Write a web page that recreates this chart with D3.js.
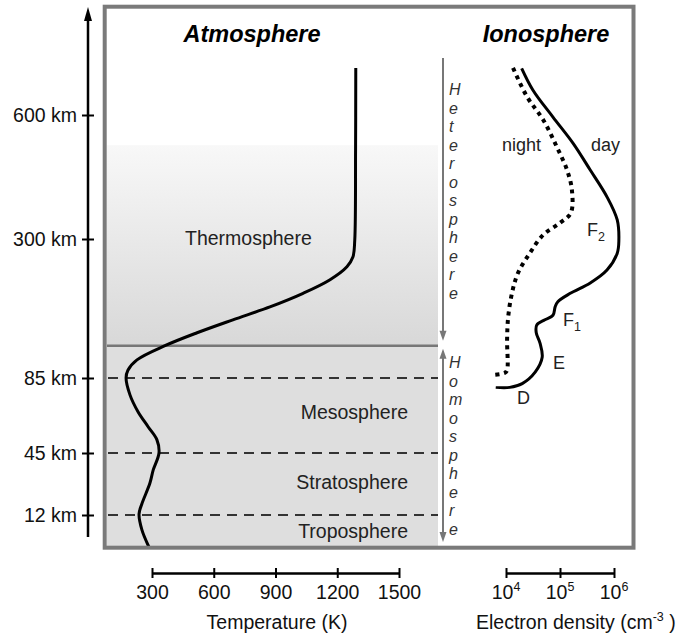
<!DOCTYPE html>
<html>
<head>
<meta charset="utf-8">
<script src="https://cdn.jsdelivr.net/npm/d3@7"></script>
<style>
  body { margin: 0; background: #fff; }
  svg { display: block; font-family: "Liberation Sans", Arial, sans-serif; }
</style>
</head>
<body>
<svg id="chart" width="681" height="638"></svg>
<script>
'use strict';

// altitude ticks (km) and the schematic heights of the layer boundaries
var altTicks = [12, 45, 85, 300, 600];
var homopauseKm = 135;
var shadeTopKm = 527;

var tempTicks = [300, 600, 900, 1200, 1500];
var densityExp = [4, 5, 6];

// temperature profile (top to bottom)
var tempAlt = [714, 515, 298, 272, 257, 237, 216, 195, 175, 155, 135, 113, 97, 85, 76, 67, 59, 52, 45, 36, 29, 18, 12.5, 6.4, 0];
var tempK   = [1290, 1289, 1285, 1276, 1247, 1165, 1034, 873, 693, 519, 363, 227, 183, 174, 193, 232, 281, 324, 334, 306, 290, 251, 237, 251, 285];

// electron density, log10(cm^-3)
var dayAlt  = [713, 660, 595, 532, 467, 402, 346, 298, 278, 252, 232, 216, 203, 195, 182, 175, 167, 155, 139, 117, 94, 82, 80, 80];
var dayLogN = [4.29, 4.50, 4.87, 5.24, 5.56, 5.87, 6.06, 6.09, 6.06, 5.87, 5.56, 5.19, 4.96, 4.91, 4.87, 4.72, 4.57, 4.56, 4.63, 4.67, 4.54, 4.30, 4.07, 3.81];
var nightAlt  = [714, 644, 588, 523, 467, 419, 363, 339, 310, 278, 247, 216, 179, 144, 97, 93, 90];
var nightLogN = [4.13, 4.39, 4.69, 4.94, 5.13, 5.22, 5.20, 5.00, 4.69, 4.44, 4.22, 4.11, 4.04, 4.02, 4.02, 3.98, 3.80];

var svg = d3.select('#chart');

// altitude is drawn on a stretched schematic scale
var y = d3.scaleLinear()
  .domain([0, 12, 45, 85, 300, 600])
  .range([547, 515, 453, 378, 239, 115]);
var xT = d3.scaleLinear().domain([300, 1500]).range([152, 399]);
var xN = d3.scaleLog().domain([1e4, 1e6]).range([506, 614]);

var left = 107, shadeRight = 438;
var labelSize = 19.5;

// shading
var grad = svg.append('defs').append('linearGradient')
  .attr('id', 'thermo').attr('x1', 0).attr('y1', 0).attr('x2', 0).attr('y2', 1);
grad.append('stop').attr('offset', '0%').attr('stop-color', '#f8f8f8');
grad.append('stop').attr('offset', '100%').attr('stop-color', '#d8d8d8');

svg.append('rect')
  .attr('x', left).attr('y', y(shadeTopKm))
  .attr('width', shadeRight - left).attr('height', y(homopauseKm) - y(shadeTopKm))
  .attr('fill', 'url(#thermo)');
svg.append('rect')
  .attr('x', left).attr('y', y(homopauseKm))
  .attr('width', shadeRight - left).attr('height', y(0) - y(homopauseKm))
  .attr('fill', '#dedede');

// layer boundaries
svg.selectAll('line.bound')
  .data([12, 45, 85])
  .enter().append('line')
  .attr('class', 'bound')
  .attr('x1', left + 1).attr('x2', shadeRight)
  .attr('y1', function(d) { return y(d); })
  .attr('y2', function(d) { return y(d); })
  .attr('stroke', '#333').attr('stroke-width', 2.2)
  .attr('stroke-dasharray', '10,7');

svg.append('line')
  .attr('x1', left).attr('x2', shadeRight)
  .attr('y1', y(homopauseKm)).attr('y2', y(homopauseKm))
  .attr('stroke', '#777').attr('stroke-width', 2.5);

// curves
var tempLine = d3.line()
  .x(function(d) { return xT(d[1]); })
  .y(function(d) { return y(d[0]); })
  .curve(d3.curveCatmullRom.alpha(0.5));

var densLine = d3.line()
  .x(function(d) { return xN(Math.pow(10, d[1])); })
  .y(function(d) { return y(d[0]); })
  .curve(d3.curveCatmullRom.alpha(0.5));

svg.append('path')
  .attr('d', tempLine(d3.zip(tempAlt, tempK)))
  .attr('fill', 'none').attr('stroke', '#000').attr('stroke-width', 3);

svg.append('path')
  .attr('d', densLine(d3.zip(dayAlt, dayLogN)))
  .attr('fill', 'none').attr('stroke', '#000').attr('stroke-width', 3);

svg.append('path')
  .attr('d', densLine(d3.zip(nightAlt, nightLogN)))
  .attr('fill', 'none').attr('stroke', '#000').attr('stroke-width', 4)
  .attr('stroke-dasharray', '4,4.5');

// frame
svg.append('rect')
  .attr('x', 104.7).attr('y', 6.7).attr('width', 528.8).attr('height', 541)
  .attr('fill', 'none').attr('stroke', '#7a7a7a').attr('stroke-width', 4);

// hetero / homosphere arrows
var arrowX = 443;
function head(x, tipY, dir, color) {
  svg.append('path')
    .attr('d', 'M' + x + ',' + tipY + 'L' + (x - 3.5) + ',' + (tipY - dir * 10) +
               'L' + (x + 3.5) + ',' + (tipY - dir * 10) + 'Z')
    .attr('fill', color);
}
svg.append('line')
  .attr('x1', arrowX).attr('x2', arrowX).attr('y1', 58).attr('y2', y(homopauseKm) - 8)
  .attr('stroke', '#777').attr('stroke-width', 2);
head(arrowX, y(homopauseKm) - 5, 1, '#777');
svg.append('line')
  .attr('x1', arrowX).attr('x2', arrowX).attr('y1', y(homopauseKm) + 6).attr('y2', y(0) - 8)
  .attr('stroke', '#777').attr('stroke-width', 2);
head(arrowX, y(homopauseKm) + 3, -1, '#777');
head(arrowX, y(0) - 5, 1, '#777');

// stacked letters
function vertical(word, y0) {
  svg.append('g').selectAll('text')
    .data(word.split(''))
    .enter().append('text')
    .attr('x', 449)
    .attr('y', function(d, i) { return y0 + i * 18.5; })
    .attr('font-size', 16).attr('font-style', 'italic').attr('fill', '#333')
    .text(function(d) { return d; });
}
vertical('Heterosphere', 95);
vertical('Homosphere', 368);

// titles
svg.append('text').attr('x', 252).attr('y', 42).attr('text-anchor', 'middle')
  .attr('font-size', 23.5).attr('font-weight', 'bold').attr('font-style', 'italic')
  .text('Atmosphere');
svg.append('text').attr('x', 546).attr('y', 42).attr('text-anchor', 'middle')
  .attr('font-size', 23.5).attr('font-weight', 'bold').attr('font-style', 'italic')
  .text('Ionosphere');

// layer names
var layerText = svg.append('g').attr('font-size', 19.5).attr('fill', '#222');
layerText.append('text').attr('x', 408).attr('y', 538).attr('text-anchor', 'end').text('Troposphere');
layerText.append('text').attr('x', 408).attr('y', 489).attr('text-anchor', 'end').text('Stratosphere');
layerText.append('text').attr('x', 408).attr('y', 419).attr('text-anchor', 'end').text('Mesosphere');
layerText.append('text').attr('x', 185).attr('y', 245).text('Thermosphere');

// ionosphere labels
var ion = svg.append('g').attr('font-size', 18).attr('fill', '#222');
ion.append('text').attr('x', 502).attr('y', 151).text('night');
ion.append('text').attr('x', 591).attr('y', 151).text('day');
function region(x, yy, name, sub) {
  var t = ion.append('text').attr('x', x).attr('y', yy).text(name);
  if (sub) t.append('tspan').attr('font-size', 12.5).attr('dy', 5).text(sub);
}
region(587, 236, 'F', '2');
region(563, 326, 'F', '1');
region(553, 369, 'E');
region(517, 404, 'D');

// altitude axis
var gy = svg.append('g').attr('transform', 'translate(88,0)')
  .call(d3.axisLeft(y).tickValues(altTicks)
    .tickFormat(function(d) { return d + ' km'; })
    .tickSizeInner(6).tickSizeOuter(0).tickPadding(5));
gy.attr('font-size', labelSize).attr('font-family', null);
gy.select('.domain').remove();
gy.selectAll('.tick line').attr('x1', -6).attr('x2', 6).attr('stroke-width', 2);
gy.selectAll('.tick text').attr('fill', '#111');
svg.append('line').attr('x1', 88).attr('x2', 88).attr('y1', 537).attr('y2', 18)
  .attr('stroke', '#000').attr('stroke-width', 2.5);
svg.append('path').attr('d', 'M88,7L84,21L92,21Z').attr('fill', '#000');

// temperature axis
var gx = svg.append('g').attr('transform', 'translate(0,573)')
  .call(d3.axisBottom(xT).tickValues(tempTicks)
    .tickFormat(d3.format('d'))
    .tickSizeOuter(0).tickSizeInner(5).tickPadding(7));
gx.attr('font-size', labelSize).attr('font-family', null);
gx.select('.domain').attr('stroke-width', 2.5);
gx.selectAll('.tick line').attr('y1', -5).attr('y2', 5).attr('stroke-width', 2);
gx.selectAll('.tick text').attr('fill', '#111');

svg.append('text').attr('x', 277).attr('y', 629).attr('text-anchor', 'middle')
  .attr('font-size', labelSize).attr('fill', '#111').text('Temperature (K)');

// electron density axis
var gn = svg.append('g').attr('transform', 'translate(0,573)')
  .call(d3.axisBottom(xN).tickValues(densityExp.map(function(e) { return Math.pow(10, e); }))
    .tickFormat(function() { return ''; })
    .tickSizeOuter(0).tickSizeInner(5));
gn.select('.domain').attr('stroke-width', 2.5);
gn.selectAll('.tick line').attr('y1', -5).attr('y2', 5).attr('stroke-width', 2);
gn.selectAll('.tick text').remove();

var expText = svg.append('g').attr('font-size', labelSize).attr('fill', '#111')
  .selectAll('text')
  .data(densityExp)
  .enter().append('text')
  .attr('x', function(d) { return xN(Math.pow(10, d)); })
  .attr('y', 599)
  .attr('text-anchor', 'middle');
expText.append('tspan').text('10');
expText.append('tspan').attr('font-size', 12.5).attr('dy', -8).text(function(d) { return d; });

var dl = svg.append('text').attr('x', 476).attr('y', 629)
  .attr('font-size', labelSize).attr('fill', '#111');
dl.append('tspan').text('Electron density (cm');
dl.append('tspan').attr('font-size', 12.5).attr('dy', -8).text('-3');
dl.append('tspan').attr('dy', 8).text(' )');
</script>
</body>
</html>
